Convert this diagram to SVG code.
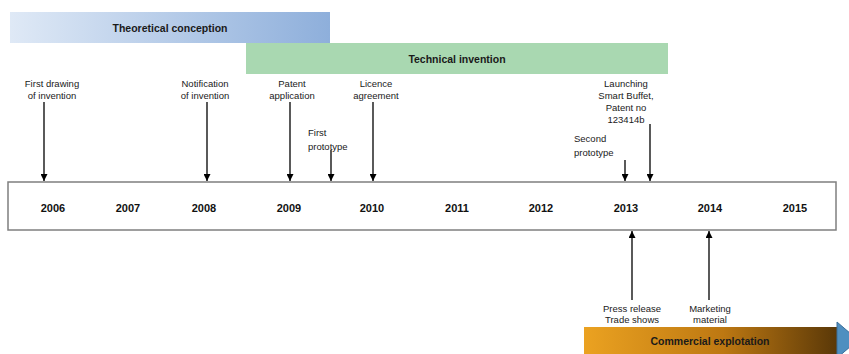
<svg xmlns="http://www.w3.org/2000/svg" width="849" height="354" viewBox="0 0 849 354">
<defs>
<linearGradient id="gBlue" x1="0" y1="0" x2="1" y2="0">
<stop offset="0" stop-color="#dfe9f6"/>
<stop offset="1" stop-color="#8eafdb"/>
</linearGradient>
<linearGradient id="gOrange" x1="0" y1="0" x2="1" y2="0">
<stop offset="0" stop-color="#eba221"/>
<stop offset="0.55" stop-color="#bd7812"/>
<stop offset="1" stop-color="#5a3808"/>
</linearGradient>
<marker id="ah" viewBox="0 0 8 8" refX="8" refY="4" markerWidth="7" markerHeight="7" markerUnits="userSpaceOnUse" orient="auto">
<path d="M0,0 L8,4 L0,8 z" fill="#000"/>
</marker>
<style>
.lbl{font-family:"Liberation Sans",Arial,sans-serif;font-size:9.5px;fill:#1a1a1a;text-anchor:middle}
.lbll{font-family:"Liberation Sans",Arial,sans-serif;font-size:9.5px;fill:#1a1a1a}
.yr{font-family:"Liberation Sans",Arial,sans-serif;font-size:11px;font-weight:bold;fill:#111;text-anchor:middle}
.bar{font-family:"Liberation Sans",Arial,sans-serif;font-size:10.5px;font-weight:bold;fill:#1a1a1a;text-anchor:middle}
.arr{stroke:#000;stroke-width:1.3;fill:none;marker-end:url(#ah)}
</style>
</defs>
<rect width="849" height="354" fill="#fff"/>
<g id="theoretical">
<rect x="10" y="12" width="320" height="31" fill="url(#gBlue)"/>
<text class="bar" x="170" y="32">Theoretical conception</text>
</g>
<g id="technical">
<rect x="246" y="43" width="422" height="31" fill="#a9d8b1"/>
<text class="bar" x="457" y="63">Technical invention</text>
</g>
<g id="commercial">
<rect x="584" y="327" width="253" height="27" fill="url(#gOrange)"/>
<polygon points="837,322 858,340 837,358" fill="#4f8fc0" stroke="#3a6f9a" stroke-width="1"/>
<text class="bar" x="710" y="345">Commercial explotation</text>
</g>
<g id="timeline">
<rect x="8" y="182" width="828" height="48" fill="#fff" stroke="#7f7f7f" stroke-width="1.5"/>
<text class="yr" x="53" y="212">2006</text>
<text class="yr" x="128" y="212">2007</text>
<text class="yr" x="204" y="212">2008</text>
<text class="yr" x="289" y="212">2009</text>
<text class="yr" x="372" y="212">2010</text>
<text class="yr" x="457" y="212">2011</text>
<text class="yr" x="541" y="212">2012</text>
<text class="yr" x="626" y="212">2013</text>
<text class="yr" x="710" y="212">2014</text>
<text class="yr" x="795" y="212">2015</text>
</g>
<g id="labels">
<text class="lbl" x="52" y="87">First drawing</text>
<text class="lbl" x="52" y="99">of invention</text>
<text class="lbl" x="205" y="87">Notification</text>
<text class="lbl" x="205" y="99">of invention</text>
<text class="lbl" x="292" y="87">Patent</text>
<text class="lbl" x="292" y="99">application</text>
<text class="lbll" x="308" y="136">First</text>
<text class="lbll" x="308" y="150">prototype</text>
<text class="lbl" x="376" y="87">Licence</text>
<text class="lbl" x="376" y="99">agreement</text>
<text class="lbl" x="626" y="87">Launching</text>
<text class="lbl" x="626" y="99">Smart Buffet,</text>
<text class="lbl" x="626" y="111">Patent no</text>
<text class="lbl" x="626" y="123">123414b</text>
<text class="lbll" x="574" y="142">Second</text>
<text class="lbll" x="574" y="156">prototype</text>
<text class="lbl" x="632" y="312">Press release</text>
<text class="lbl" x="632" y="323">Trade shows</text>
<text class="lbl" x="710" y="312">Marketing</text>
<text class="lbl" x="710" y="323">material</text>
</g>
<g id="connectors">
<line class="arr" x1="44" y1="102" x2="44" y2="181"/>
<line class="arr" x1="207" y1="102" x2="207" y2="181"/>
<line class="arr" x1="290" y1="102" x2="290" y2="181"/>
<line class="arr" x1="331" y1="150" x2="331" y2="181"/>
<line class="arr" x1="373" y1="102" x2="373" y2="181"/>
<line class="arr" x1="625" y1="160" x2="625" y2="181"/>
<line class="arr" x1="650" y1="124" x2="650" y2="181"/>
<line class="arr" x1="632" y1="300" x2="632" y2="231"/>
<line class="arr" x1="709" y1="300" x2="709" y2="231"/>
</g>
</svg>
